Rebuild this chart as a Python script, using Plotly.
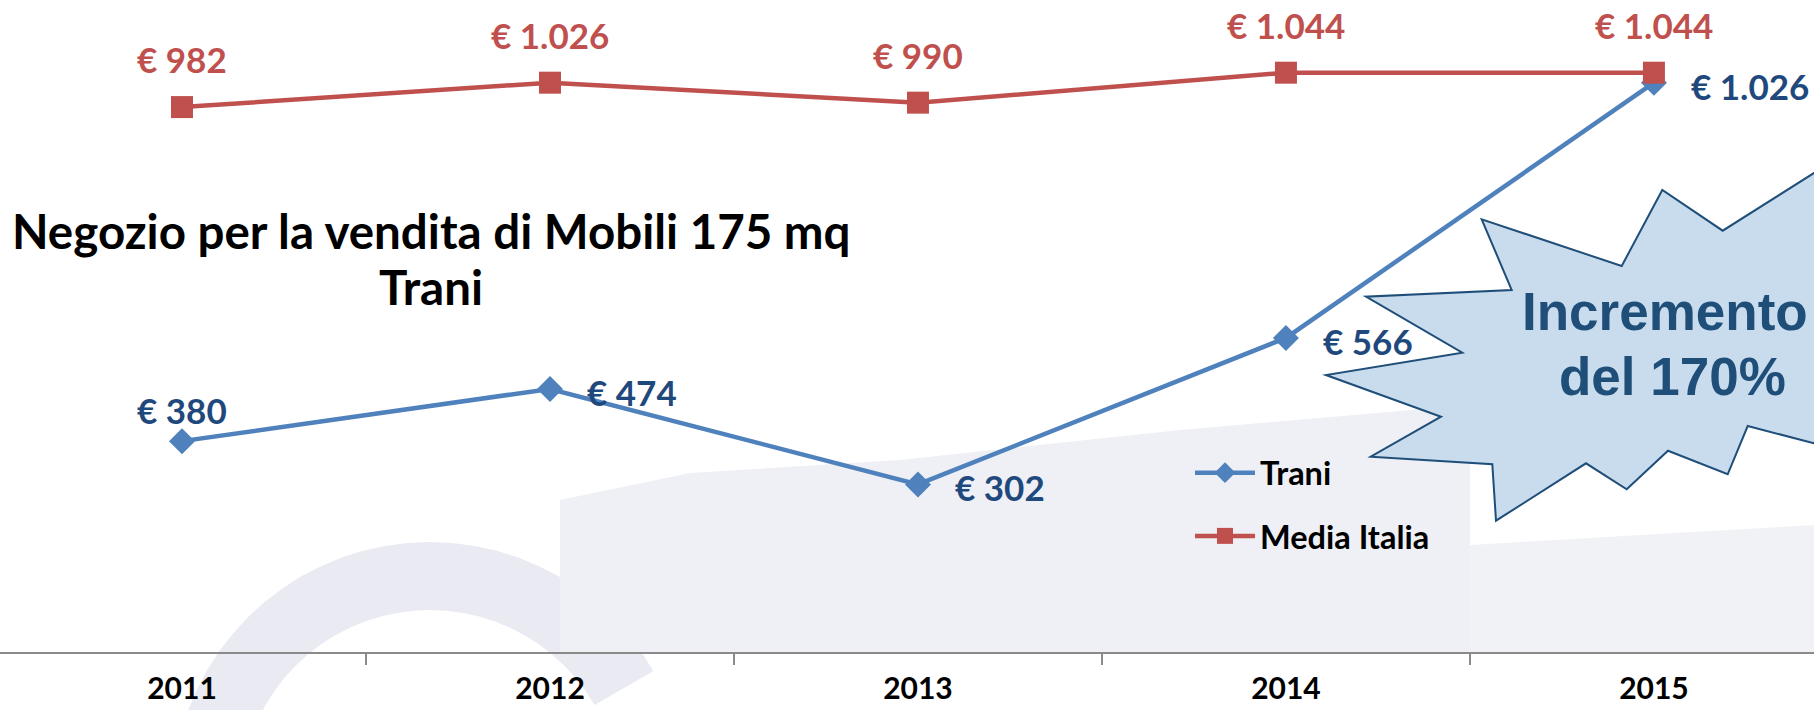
import math
import plotly.graph_objects as go

# ---------------- data ----------------
years = ["2011", "2012", "2013", "2014", "2015"]
trani = [380, 474, 302, 566, 1026]
media_italia = [982, 1026, 990, 1044, 1044]
series_names = ["Trani", "Media Italia"]
title_lines = ["Negozio per la vendita di Mobili 175 mq", "Trani"]
badge_lines = ["Incremento", "del 170%"]

# ---------------- geometry helpers ----------------
W, H = 1814, 710
MB = 58
PH = H - MB


def px(x):
    return x / W


def py(y):
    return (PH - y) / PH


def eur(v):
    return "€ " + f"{v:,}".replace(",", ".")


BLUE = "#4F81BD"
RED = "#C0504D"
BLUE_TXT = "#1F497D"
FONT = "Lato"
WM = "#E9EAF2"

fig = go.Figure()
fig.add_trace(go.Scatter(
    x=years, y=trani, name=series_names[0], mode="lines+markers",
    line=dict(color=BLUE, width=4.5),
    marker=dict(symbol="diamond", size=20, color=BLUE),
    legendgroup="g1"))
fig.add_trace(go.Scatter(
    x=years, y=media_italia, name=series_names[1], mode="lines+markers",
    line=dict(color=RED, width=4.5),
    marker=dict(symbol="square", size=22, color=RED),
    legendgroup="g2"))

ann = []
for i, v in enumerate(media_italia):
    ann.append(dict(x=i, y=v, xref="x", yref="y", text=eur(v), showarrow=False,
                    xanchor="center", yanchor="middle", yshift=48,
                    font=dict(family=FONT, size=35, color=RED, weight="bold")))
for i, v in enumerate(trani):
    if i == 0:
        ann.append(dict(x=i, y=v, xref="x", yref="y", text=eur(v), showarrow=False,
                        xanchor="center", yanchor="middle", yshift=31,
                        font=dict(family=FONT, size=35, color=BLUE_TXT, weight="bold")))
    else:
        ann.append(dict(x=i, y=v, xref="x", yref="y", text=eur(v), showarrow=False,
                        xanchor="left", yanchor="middle", xshift=35, yshift=-3,
                        font=dict(family=FONT, size=35, color=BLUE_TXT, weight="bold")))

# chart title (two lines placed individually)
for txt, yc in zip(title_lines, [231, 286]):
    ann.append(dict(x=px(431), y=py(yc), xref="paper", yref="paper",
                    xanchor="center", yanchor="middle", text=txt, showarrow=False,
                    font=dict(family=FONT, size=47.5, color="black", weight="bold")))

# starburst badge
star = [(1840, 156.6), (1722.7, 230.7), (1662.3, 190), (1621.7, 266), (1481.7, 219.3),
        (1511.7, 290), (1366, 296.7), (1462.3, 352.7), (1326, 375), (1441, 416.7),
        (1370.7, 456.7), (1492.3, 464.3), (1496, 520.7), (1586, 463.3), (1626.7, 489.3),
        (1668, 450.7), (1727.7, 474.3), (1747.7, 426), (1814, 443.3), (1850, 452.7),
        (1850, 156.6)]


def poly_path(pts):
    return "M " + " L ".join(f"{px(x):.5f},{py(y):.5f}" for x, y in pts) + " Z"


# faint watermark (approximate logo shapes behind the chart)
cx, cy, ro, ri = 430, 800, 258, 190
arc_out = [(cx + ro * math.cos(math.radians(a)), cy - ro * math.sin(math.radians(a)))
           for a in range(180, 29, -5)]
arc_in = [(cx + ri * math.cos(math.radians(a)), cy - ri * math.sin(math.radians(a)))
          for a in range(30, 181, 5)]
wm_c = arc_out + arc_in
wm_block = [(560, 500), (690, 473), (900, 460), (1180, 430), (1470, 405),
            (1470, 652), (560, 652)]
wm_right = [(1470, 545), (1814, 525), (1814, 652), (1470, 652)]

shapes = [
    dict(type="path", path=poly_path(wm_c), xref="paper", yref="paper",
         fillcolor=WM, line=dict(width=0), layer="below"),
    dict(type="path", path=poly_path(wm_block), xref="paper", yref="paper",
         fillcolor="#EFF0F5", line=dict(width=0), layer="below"),
    dict(type="path", path=poly_path(wm_right), xref="paper", yref="paper",
         fillcolor="#F1F2F6", line=dict(width=0), layer="below"),
    dict(type="path", path=poly_path(star), xref="paper", yref="paper",
         fillcolor="#C9DCEE", line=dict(color="#1F4E79", width=2), layer="above"),
]

ann.append(dict(x=px(1665), y=py(311), xref="paper", yref="paper", text=badge_lines[0],
                xanchor="center", yanchor="middle", showarrow=False,
                font=dict(family="Liberation Sans", size=53, color="#1F4E79", weight="bold")))
ann.append(dict(x=px(1672), y=py(376), xref="paper", yref="paper", text=badge_lines[1],
                xanchor="center", yanchor="middle", showarrow=False,
                font=dict(family="Liberation Sans", size=53, color="#1F4E79", weight="bold")))

fig.update_layout(
    width=W, height=H,
    margin=dict(l=0, r=0, t=0, b=MB, pad=0),
    paper_bgcolor="white", plot_bgcolor="rgba(0,0,0,0)",
    annotations=ann, shapes=shapes,
    showlegend=True,
    legend=dict(x=px(1190), y=py(445), xanchor="left", yanchor="top",
                font=dict(family=FONT, size=32.5, color="black", weight="bold"),
                bgcolor="rgba(0,0,0,0)", tracegroupgap=18, itemwidth=60),
    xaxis=dict(type="category", range=[-0.4946, 4.435], showgrid=False, zeroline=False,
               showline=True, linecolor="#8A8A8A", linewidth=1.5,
               ticks="outside", ticklen=11, tickwidth=1.5, tickcolor="#8A8A8A",
               tickson="boundaries", ticklabelstandoff=9,
               tickfont=dict(family=FONT, size=30, color="black", weight="bold")),
    yaxis=dict(range=[0, 1175], visible=False),
)

fig.write_html("out.html", config={"displayModeBar": False},
               post_script="document.body.style.margin='0';"
               "document.body.style.overflow='hidden';")
